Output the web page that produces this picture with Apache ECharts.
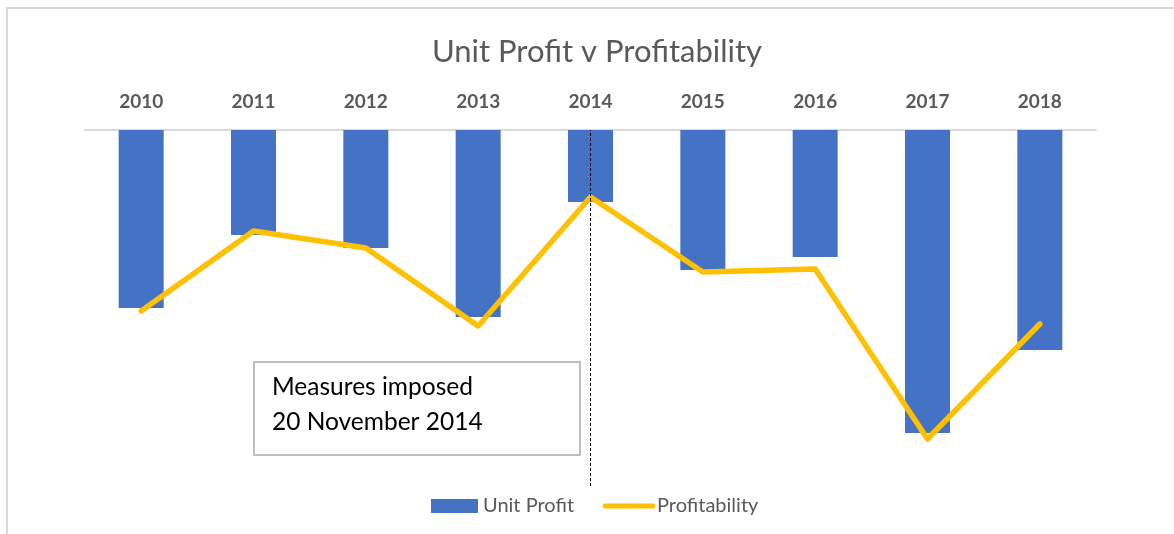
<!DOCTYPE html>
<html>
<head>
<meta charset="utf-8">
<script src="https://cdn.jsdelivr.net/npm/echarts@6/dist/echarts.min.js"></script>
<style>
  html, body { margin: 0; padding: 0; background: #fff; }
  #main { width: 1174px; height: 534px; }
</style>
</head>
<body>
<div id="main"></div>
<script>
const years = ["2010", "2011", "2012", "2013", "2014", "2015", "2016", "2017", "2018"];
const unitProfit = [-178, -105, -118, -187, -72, -140, -127, -303, -220];
const profitability = [-181, -101, -118, -196, -67, -142, -139, -309, -194];
const markYear = "2014";
const noteLines = ["Measures imposed", "20 November 2014"];

const font = "Lato, 'Open Sans', sans-serif";
const chart = echarts.init(document.getElementById("main"));

chart.setOption({
  animation: false,
  backgroundColor: "#fff",
  title: {
    text: "Unit Profit v Profitability",
    left: 592,
    top: 31,
    textAlign: "center",
    textStyle: { fontFamily: font, fontSize: 31, fontWeight: "normal", color: "#595959" }
  },
  legend: [
    {
      data: [{ name: "Unit Profit", icon: "rect" }],
      left: 426,
      top: 491,
      itemWidth: 47,
      itemHeight: 14,
      itemGap: 7,
      textStyle: { fontFamily: font, fontSize: 20, color: "#595959" }
    },
    {
      data: [{ name: "Profitability", icon: "roundRect", itemStyle: { color: "#ffc000" } }],
      left: 598,
      top: 491,
      itemWidth: 52,
      itemHeight: 5,
      textStyle: { fontFamily: font, fontSize: 20, color: "#595959", padding: [0, 0, 0, -3] }
    }
  ],
  grid: { left: 85, right: 78, top: 130, bottom: 48 },
  xAxis: {
    type: "category",
    position: "top",
    data: years,
    axisTick: { show: false },
    axisLine: { lineStyle: { color: "#d9d9d9", width: 2 } },
    axisLabel: { margin: 19, fontFamily: font, fontSize: 19, fontWeight: "bold", color: "#595959" }
  },
  yAxis: {
    type: "value",
    min: -356,
    max: 0,
    show: false
  },
  series: [
    {
      name: "Unit Profit",
      type: "bar",
      data: unitProfit,
      barWidth: 45,
      itemStyle: { color: "#4472c4" },
      markLine: {
        silent: true,
        symbol: "none",
        label: { show: false },
        lineStyle: { color: "#000", width: 1, type: [3, 2] },
        data: [{ xAxis: markYear }]
      }
    },
    {
      name: "Profitability",
      type: "line",
      data: profitability,
      symbol: "none",
      lineStyle: { color: "#ffc000", width: 5.5, cap: "round", join: "round" },
      itemStyle: { color: "#ffc000" }
    }
  ],
  graphic: [
    {
      type: "rect",
      shape: { x: 7, y: 8, width: 1200, height: 600 },
      style: { fill: "none", stroke: "#d9d9d9", lineWidth: 2 },
      silent: true
    },
    {
      type: "rect",
      shape: { x: 254, y: 362, width: 326, height: 93 },
      style: { fill: "#fff", stroke: "#bfbfbf", lineWidth: 2 },
      z: 10
    },
    {
      type: "text",
      x: 272,
      y: 370,
      z: 11,
      style: {
        text: noteLines.join("\n"),
        fontFamily: font,
        fontSize: 24.5,
        lineHeight: 35,
        fill: "#000"
      }
    }
  ]
});
</script>
</body>
</html>
